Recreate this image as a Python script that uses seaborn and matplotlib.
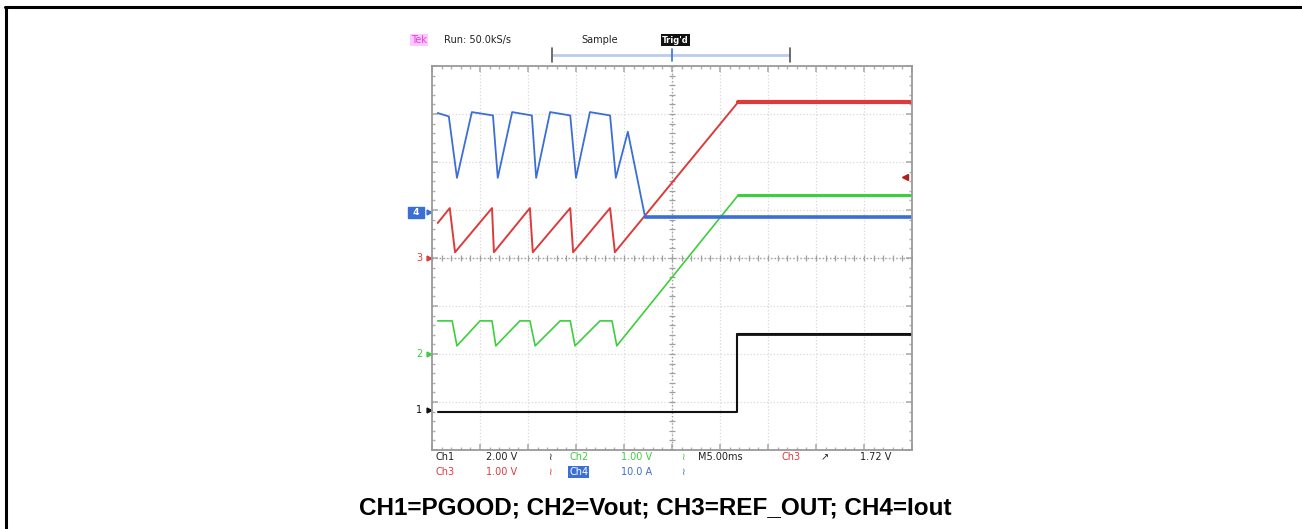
import numpy as np
import pandas as pd
import matplotlib
matplotlib.use("Agg")
import matplotlib.pyplot as plt
from matplotlib.lines import Line2D
import seaborn as sns

# screen is 10 x 8 divisions; x in div (5 ms/div), y in div from bottom
ch1_x = [0.12, 6.35, 6.35, 10.0]
ch1_y = [0.79, 0.79, 2.42, 2.42]

ch2_x = [0.12, 0.42, 0.52, 1.00, 1.25, 1.33, 1.83, 2.04, 2.15, 2.67, 2.88, 2.98, 3.50, 3.75, 3.85, 6.38, 10.0]
ch2_y = [2.69, 2.69, 2.17, 2.69, 2.69, 2.17, 2.69, 2.69, 2.17, 2.69, 2.69, 2.17, 2.69, 2.69, 2.17, 5.31, 5.31]

ch3_x = [0.12, 0.37, 0.48, 1.25, 1.29, 2.04, 2.10, 2.88, 2.94, 3.71, 3.81, 6.38, 10.0]
ch3_y = [4.73, 5.04, 4.12, 5.04, 4.12, 5.04, 4.12, 5.04, 4.12, 5.04, 4.12, 7.25, 7.25]

ch4_x = [0.12, 0.35, 0.52, 0.83, 1.27, 1.37, 1.67, 2.08, 2.17, 2.46, 2.88, 3.00, 3.29, 3.71, 3.83, 4.08, 4.44, 10.0]
ch4_y = [7.02, 6.95, 5.67, 7.04, 6.97, 5.67, 7.04, 6.97, 5.67, 7.04, 6.97, 5.67, 7.04, 6.97, 5.67, 6.63, 4.85, 4.85]

ch_names = ["1", "2", "3", "4"]
ch_levels = [0.83, 2.0, 4.0, 4.95]
ch_colors = ["#111111", "#3ccf3c", "#dd3b3b", "#3b6fd6"]
trig_level = 5.69

caption = "CH1=PGOOD; CH2=Vout; CH3=REF_OUT; CH4=Iout"
row1 = [("Ch1", 0), ("2.00 V", 0), ("\u2240", 0), ("Ch2", 1), ("1.00 V", 1), ("\u2240", 1),
        ("M5.00ms", 0), ("Ch3", 2), ("\u2197", 0), ("1.72 V", 0)]
row1_x = [436, 486, 548, 569, 621, 681, 698, 781, 821, 860]
row2 = [("Ch3", 2), ("1.00 V", 2), ("\u2240", 2), ("Ch4", 3), ("10.0 A", 3), ("\u2240", 3)]
row2_x = [436, 486, 548, 569, 621, 681]

W, H = 1302, 529
sns.set_theme(style="white")
plt.rcParams['font.family'] = ['DejaVu Sans']

fig = plt.figure(figsize=(W / 100, H / 100), dpi=100)
fig.patch.set_facecolor("white")

def fx(x):
    return x / W

def fy(y):
    return 1 - y / H

# outer frame (top and left)
fig.add_artist(Line2D([fx(5), 1], [fy(7), fy(7)], color="black", lw=2.2))
fig.add_artist(Line2D([fx(6), fx(6)], [0, fy(7)], color="black", lw=2.2))

ax = fig.add_axes([fx(432), fy(450), 480 / W, 384 / H])
ax.set_xlim(0, 10)
ax.set_ylim(0, 8)
ax.set_facecolor("white")
for s in ax.spines.values():
    s.set_color("#9a9a9a")
    s.set_linewidth(1.3)
ax.set_xticks(np.arange(0, 11, 1))
ax.set_yticks(np.arange(0, 9, 1))
ax.set_xticks(np.arange(0, 10.01, 0.2), minor=True)
ax.set_yticks(np.arange(0, 8.01, 0.2), minor=True)
ax.tick_params(which="both", direction="in", colors="#b0b0b0", labelbottom=False, labelleft=False,
               top=True, right=True, bottom=True, left=True)
ax.tick_params(which="major", length=4)
ax.tick_params(which="minor", length=2)
ax.grid(True, which="major", color="#d9d9d9", linestyle=":", linewidth=0.9)

# center cross with minor ticks
ax.axvline(5, color="#a0a0a0", linestyle=":", lw=1.0)
ax.axhline(4, color="#a0a0a0", linestyle=":", lw=1.0)
ax.plot(np.arange(0, 10.01, 0.2), np.full(51, 4.0), linestyle="none", marker="|", ms=4, color="#a0a0a0", mew=0.9)
ax.plot(np.full(41, 5.0), np.arange(0, 8.01, 0.2), linestyle="none", marker="_", ms=4, color="#a0a0a0", mew=0.9)

# (x, y, colour index, line width, tail width)
traces = [(ch1_x, ch1_y, 0, 1.5, 2.0), (ch3_x, ch3_y, 2, 1.4, 3.0),
          (ch2_x, ch2_y, 1, 1.2, 2.2), (ch4_x, ch4_y, 3, 1.3, 2.6)]
for xs, ys, ci, lw, tail in traces:
    df = pd.DataFrame({"t": xs, "v": ys})
    sns.lineplot(data=df, x="t", y="v", sort=False, estimator=None, color=ch_colors[ci], lw=lw, ax=ax)
    # flat tail after the ramp is drawn heavier on the scope
    sns.lineplot(data=df.iloc[-2:], x="t", y="v", sort=False, estimator=None,
                 color=ch_colors[ci], lw=tail, ax=ax)
ax.set_xlabel("")
ax.set_ylabel("")

# trigger level marker on right edge
ax.plot([9.85], [trig_level], marker="<", ms=4, color="#b02020", linestyle="none")

# channel ground markers on the left
for name, lvl, col in zip(ch_names, ch_levels, ch_colors):
    ax.plot([-0.07], [lvl], marker=">", ms=3.5, color=col, clip_on=False, linestyle="none")
    if name == "4":
        ax.text(-0.2, lvl, " 4 ", color="white", fontsize=6.5, fontweight="bold", ha="right", va="center",
                bbox=dict(boxstyle="square,pad=0.15", fc=col, ec=col))
    else:
        ax.text(-0.2, lvl, name, color=col, fontsize=7, ha="right", va="center")

# header
fig.text(fx(411), fy(40), "Tek", color="#e040e0", fontsize=7, va="center",
         bbox=dict(boxstyle="square,pad=0.1", fc="#ffc8ff", ec="none"))
fig.text(fx(444), fy(40), "Run: 50.0kS/s", color="#222222", fontsize=7, va="center")
fig.text(fx(581), fy(40), "Sample", color="#222222", fontsize=7, va="center")
fig.text(fx(662), fy(40), "Trig'd", color="white", fontsize=6, va="center", fontweight="bold",
         bbox=dict(boxstyle="square,pad=0.15", fc="#111111", ec="none"))
fig.add_artist(Line2D([fx(553), fx(789)], [fy(55), fy(55)], color="#b8cdf0", lw=2))
for bx in (552, 790):
    fig.add_artist(Line2D([fx(bx), fx(bx)], [fy(48), fy(62)], color="#555555", lw=1.2))
fig.add_artist(Line2D([fx(672), fx(672)], [fy(49), fy(61)], color="#3b6fd6", lw=1.2))

# footer readouts
for (txt, ci), x in zip(row1, row1_x):
    col = "#222222" if ci == 0 else ch_colors[ci]
    fig.text(fx(x), fy(457), txt, color=col, fontsize=7, va="center")
for (txt, ci), x in zip(row2, row2_x):
    if txt == "Ch4":
        fig.text(fx(x), fy(472), txt, color="white", fontsize=7, va="center",
                 bbox=dict(boxstyle="square,pad=0.1", fc=ch_colors[3], ec="none"))
    else:
        fig.text(fx(x), fy(472), txt, color=ch_colors[ci], fontsize=7, va="center")

fig.text(fx(655), fy(508), caption, fontsize=17.5, fontweight="bold", family=["Liberation Sans", "DejaVu Sans"],
         ha="center", va="center", color="black")

fig.savefig("out.png", dpi=100)
